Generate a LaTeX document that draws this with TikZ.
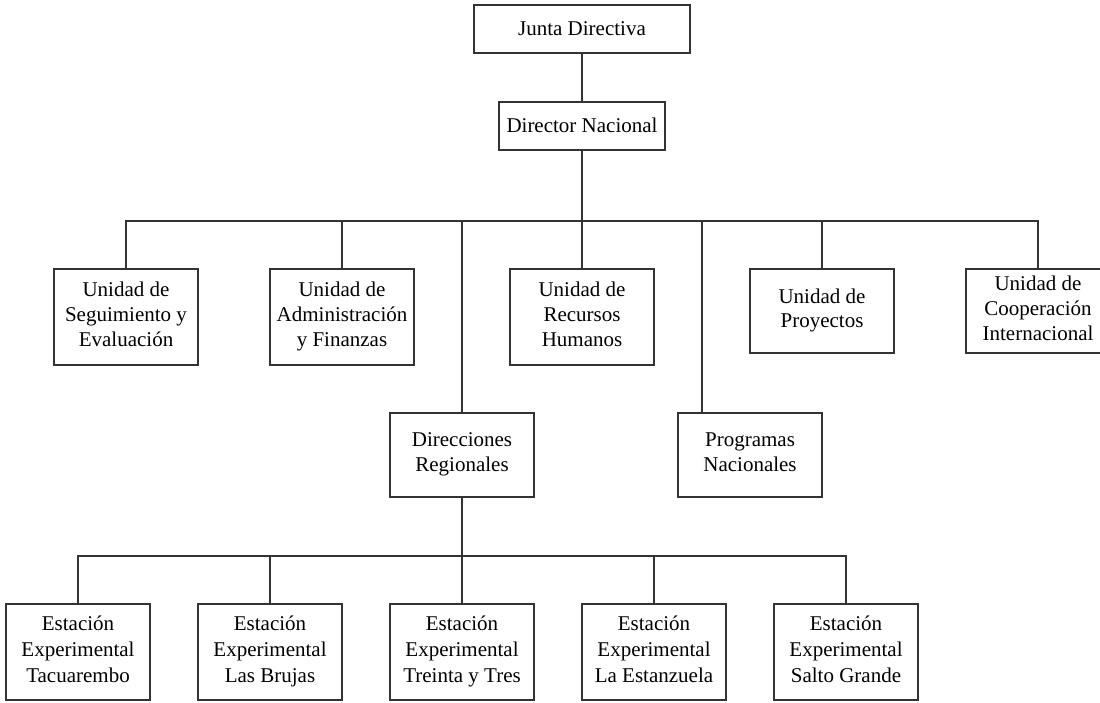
\documentclass[tikz,border=0pt]{standalone}
\usepackage{fontspec}
\setmainfont{Liberation Serif}
\newcommand\orgstrut{\vrule width 0pt height 19pt depth 5.5pt\relax}
\begin{document}
\begin{tikzpicture}[x=1pt,y=-1pt,
  box/.style={draw=black!80, line width=1.1pt, rectangle, inner sep=0pt, align=center,
    minimum width=144, font=\fontsize{21}{24.7}\selectfont, text=black,
    execute at begin node=\orgstrut, execute at end node=\orgstrut},
  tall/.style={box, minimum height=96},
  mid/.style={box, minimum height=84},
  low/.style={tall, font=\fontsize{21}{26.2}\selectfont},
  link/.style={draw=black!80, line width=1.1pt}]
\useasboundingbox (0,0) rectangle (1100,702);
\fill[white] (0,0) rectangle (1100,702);
\clip (0,0) rectangle (1100,702);
% top
\node[box, minimum width=216, minimum height=48] (junta) at (582,29) {Junta Directiva};
\node[box, minimum width=166, minimum height=48] (director) at (582,126) {Director Nacional};
% row 2
\node[tall] (seg) at (126,317) {Unidad de\\Seguimiento y\\Evaluación};
\node[tall] (adm) at (342,317) {Unidad de\\Administración\\y Finanzas};
\node[tall] (rh) at (582,317) {Unidad de\\Recursos\\Humanos};
\node[mid] (proy) at (822,311) {Unidad de\\Proyectos};
\node[mid] (coop) at (1038,311) {Unidad de\\Cooperación\\Internacional};
% row 3
\node[mid] (dirreg) at (462,455) {Direcciones\\Regionales};
\node[mid] (prog) at (750,455) {Programas\\Nacionales};
% row 4
\node[low] (e1) at (78,652) {Estación\\Experimental\\Tacuarembo};
\node[low] (e2) at (270,652) {Estación\\Experimental\\Las Brujas};
\node[low] (e3) at (462,652) {Estación\\Experimental\\Treinta y Tres};
\node[low] (e4) at (654,652) {Estación\\Experimental\\La Estanzuela};
\node[low] (e5) at (846,652) {Estación\\Experimental\\Salto Grande};
% buses
\coordinate (bus1) at (582,221);
\coordinate (bus2) at (462,556);
% connectors
\draw[link] (junta.south) -- (director.north);
\draw[link] (director.south) -- (rh.north);
\draw[link] (seg.north) |- (bus1) -| (coop.north);
\draw[link] (adm.north) -- (adm.north |- bus1);
\draw[link] (dirreg.north) -- (dirreg.north |- bus1);
\draw[link] (proy.north) -- (proy.north |- bus1);
\draw[link] ([xshift=-48pt]prog.north) -- ([xshift=-48pt]prog.north |- bus1);
\draw[link] (dirreg.south) -- (e3.north);
\draw[link] (e1.north) |- (bus2) -| (e5.north);
\draw[link] (e2.north) -- (e2.north |- bus2);
\draw[link] (e4.north) -- (e4.north |- bus2);
\end{tikzpicture}
\end{document}
